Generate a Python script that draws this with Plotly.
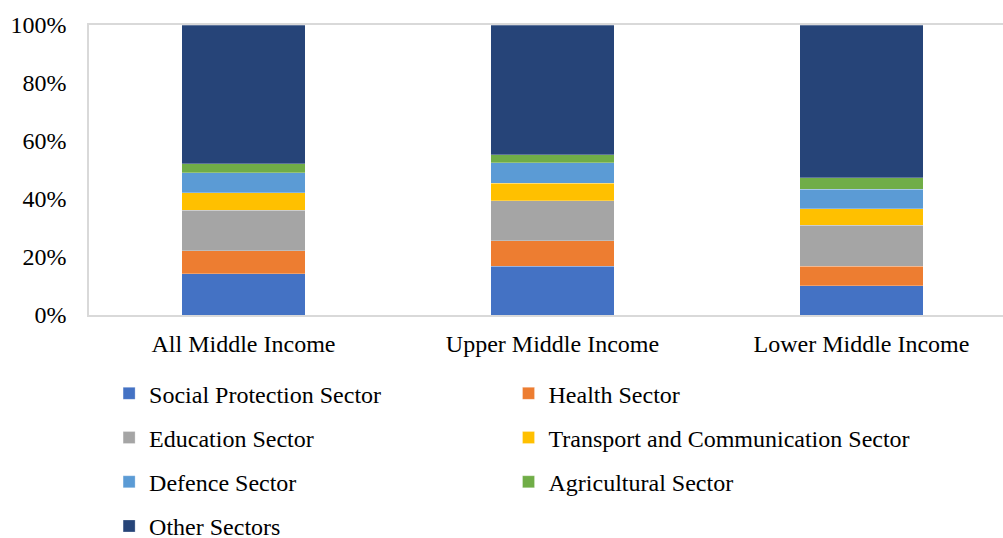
import plotly.graph_objects as go

# Share of spending by sector (percent of total) for each income group
categories = ["All Middle Income", "Upper Middle Income", "Lower Middle Income"]

social_protection = [14.2, 16.8, 10.1]
health = [7.9, 8.8, 6.7]
education = [14.0, 13.8, 14.2]
transport_comm = [6.0, 6.0, 5.6]
defence = [6.9, 7.1, 6.8]
agricultural = [3.2, 2.8, 4.0]
other = [47.8, 44.7, 52.6]

series = [
    ("Social Protection Sector", social_protection, "#4472C4", "legend"),
    ("Health Sector", health, "#ED7D31", "legend2"),
    ("Education Sector", education, "#A5A5A5", "legend"),
    ("Transport and Communication Sector", transport_comm, "#FFC000", "legend2"),
    ("Defence Sector", defence, "#5B9BD5", "legend"),
    ("Agricultural Sector", agricultural, "#70AD47", "legend2"),
    ("Other Sectors", other, "#264478", "legend"),
]

FONT = "Liberation Serif, Times New Roman, serif"
SIZE = 24

fig = go.Figure()
for name, vals, color, leg in series:
    fig.add_trace(go.Bar(
        x=categories, y=vals, name=name,
        marker=dict(color=color, line=dict(color="rgba(255,255,255,0.35)", width=0.75)),
        legend=leg, legendgroup=name,
    ))

legend_common = dict(
    orientation="v", traceorder="grouped", tracegroupgap=10,
    font=dict(family=FONT, size=SIZE, color="#000000"),
    bgcolor="rgba(0,0,0,0)", yanchor="top", xanchor="left",
    itemclick=False, itemdoubleclick=False,
)

fig.update_layout(
    width=1003, height=538,
    margin=dict(l=89, r=0, t=25, b=223, autoexpand=False),
    paper_bgcolor="white", plot_bgcolor="white",
    barmode="stack", bargap=0.6,
    font=dict(family=FONT, size=SIZE, color="#000000"),
    legend=dict(x=0.022, y=-0.194, **legend_common),
    legend2=dict(x=0.459, y=-0.194, **legend_common),
    xaxis=dict(
        range=[-0.5, 2.458],
        showline=True, linecolor="#D9D9D9", linewidth=1.5, mirror=True,
        showgrid=False, ticks="", ticklabelstandoff=6,
        tickfont=dict(family=FONT, size=SIZE, color="#000000"),
    ),
    yaxis=dict(
        range=[0, 100], tickvals=[0, 20, 40, 60, 80, 100],
        ticktext=["0%", "20%", "40%", "60%", "80%", "100%"],
        showline=True, linecolor="#D9D9D9", linewidth=1.5,
        showgrid=False, zeroline=False, ticks="", ticklabelstandoff=16,
        tickfont=dict(family=FONT, size=SIZE, color="#000000"),
    ),
)

fig.write_html("out.html")
